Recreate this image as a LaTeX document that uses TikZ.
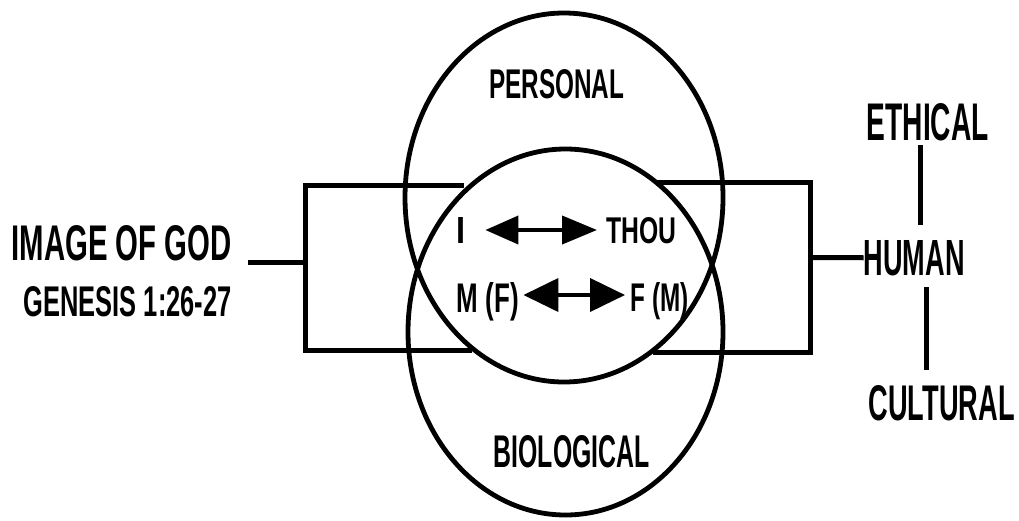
\documentclass[tikz,border=0pt]{standalone}
\usepackage{fontspec}
\usepackage{graphicx}
\usetikzlibrary{arrows.meta}
\newfontfamily\labfont{Liberation Sans}
% condensed caps: each label is squeezed into the box it occupies
\newcommand\fitlabel[3]{\resizebox{#1pt}{#2pt}{\labfont\bfseries #3}}

\tikzset{
  ring/.style={line width=4.8pt},
  frame/.style={line width=5pt},
  txt/.style={inner sep=0pt, anchor=base west},
  dbl/.style={line width=4pt,
    {Triangle[length=33pt,width=28pt]}-{Triangle[length=35pt,width=28pt]}},
  dblwide/.style={line width=4pt,
    {Triangle[length=35pt,width=33pt]}-{Triangle[length=35pt,width=33pt]}},
}

\begin{document}
\begin{tikzpicture}[x=1pt,y=-1pt]
\useasboundingbox (0,0) rectangle (1019,520);

% two overlapping rings; their overlap is the central lens
\draw[ring] (564,197.5) ellipse [x radius=159, y radius=184.5];
\draw[ring] (565.5,332) ellipse [x radius=157.5, y radius=183];

% brackets on either side
\draw[frame] (464,185) -- (305,185) -- (305,350) -- (472,350);
\draw[frame] (656,182) -- (810,182) -- (810,352) -- (653,352);

% labels
\node[txt] (personal) at (489,98)   {\fitlabel{135}{29}{PERSONAL}};
\node[txt] (i)        at (456,243)  {\fitlabel{9}{26}{I}};
\node[txt] (thou)     at (606.5,243){\fitlabel{70}{26}{THOU}};
\node[txt] (mf)       at (456.5,312){\fitlabel{62}{30}{M (F)}};
\node[txt] (fm)       at (630.5,311){\fitlabel{58}{29}{F (M)}};
\node[txt] (bio)      at (493.5,467){\fitlabel{156}{32}{BIOLOGICAL}};
\node[txt] (god)      at (11.5,260) {\fitlabel{220}{35}{IMAGE OF GOD}};
\node[txt] (gen)      at (23.5,316) {\fitlabel{208}{30}{GENESIS 1:26-27}};
\node[txt] (ethical)  at (866.5,140){\fitlabel{122}{37}{ETHICAL}};
\node[txt] (human)    at (863.5,275){\fitlabel{101}{35}{HUMAN}};
\node[txt] (cultural) at (868.5,420){\fitlabel{146}{35}{CULTURAL}};

% two-way arrows inside the central lens
\draw[dbl] ([shift={(20,-13)}]i.base east) -- ([shift={(-9.5,-13)}]thou.base west);
\draw[dblwide] ([shift={(4.5,-17)}]mf.base east) -- ([shift={(-5.5,-16)}]fm.base west);

% connecting stubs and the vertical scale on the right
\coordinate (stubL) at (248,262);
\coordinate (frameL) at (305,262);
\coordinate (frameR) at (810,257.5);
\draw[frame] (stubL) -- (frameL);
\draw[frame] (frameR) -- (human.west);

\coordinate (eTop) at (920,145);
\coordinate (eBot) at (920,225);
\coordinate (cTop) at (926,287);
\coordinate (cBot) at (926,370);
\draw[frame] (eTop) -- (eBot);
\draw[frame] (cTop) -- (cBot);
\end{tikzpicture}
\end{document}
